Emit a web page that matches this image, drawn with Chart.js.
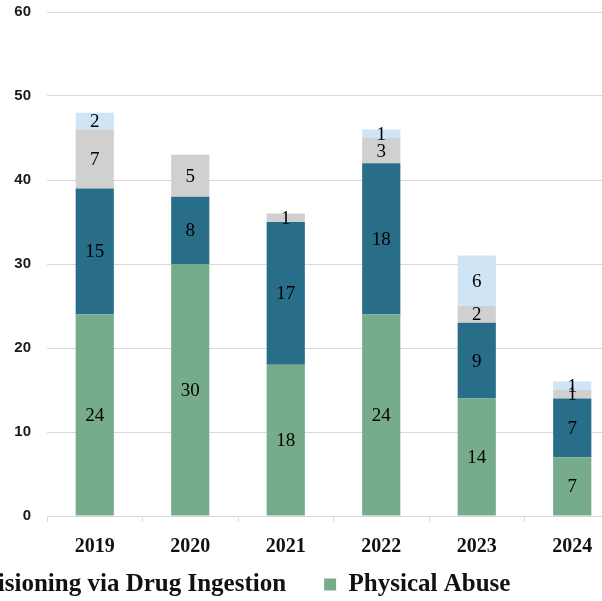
<!DOCTYPE html>
<html>
<head>
<meta charset="utf-8">
<script src="https://cdn.jsdelivr.net/npm/chart.js@4"></script>
<style>
  html, body { margin: 0; padding: 0; overflow: hidden; background: #fff; }
  body { width: 602px; height: 601px; position: relative; }
  #wrap { position: absolute; left: -164px; top: -13px; width: 800px; height: 658px; }
</style>
</head>
<body>
<div id="wrap"><canvas id="chart"></canvas></div>
<script>
// Values, stacked bottom to top
const years = ['2019', '2020', '2021', '2022', '2023', '2024'];
const physicalAbuse = [24, 30, 18, 24, 14, 7];
const drugPoisoning = [15, 8, 17, 18, 9, 7];
const grayPart = [7, 5, 1, 3, 2, 1];
const lightBluePart = [2, 0, 0, 1, 6, 1];
const yMax = 60;
const yStep = 10;

// Draw the number in the middle of every non-empty segment
const barLabels = {
    id: 'barLabels',
    afterDatasetsDraw(chart) {
        const ctx = chart.ctx;
        ctx.save();
        ctx.font = '19px "Liberation Serif"';
        ctx.fillStyle = '#000';
        ctx.textAlign = 'center';
        ctx.textBaseline = 'middle';
        chart.data.datasets.forEach((ds, i) => {
            chart.getDatasetMeta(i).data.forEach((bar, j) => {
                if (!ds.data[j]) return;
                ctx.fillText(ds.data[j], bar.x, (bar.y + bar.base) / 2 + 1);
            });
        });
        ctx.restore();
    }
};

// Legend items are spaced wide apart; pull the row up under the axis labels
const legendShift = {
    id: 'legendShift',
    afterLayout(chart) {
        chart.legend.top -= 38;
        chart.legend.bottom -= 38;
    }
};

const ctx = document.getElementById('chart').getContext('2d');
const chart = new Chart(ctx, {
    type: 'bar',
    data: {
        labels: years,
        datasets: [{
            label: 'Physical Abuse',
            data: physicalAbuse,
            backgroundColor: '#76ab8c'
        }, {
            label: 'Poisioning via Drug Ingestion',
            data: drugPoisoning,
            backgroundColor: '#286e89'
        }, {
            label: 'Series 3',
            data: grayPart,
            backgroundColor: '#d0d0d0'
        }, {
            label: 'Series 4',
            data: lightBluePart,
            backgroundColor: '#cfe4f4'
        }]
    },
    options: {
        responsive: true,
        maintainAspectRatio: false,
        animation: false,
        barPercentage: 0.8,
        categoryPercentage: 0.5,
        layout: {
            padding: { top: 11, left: 0, right: 16, bottom: 0 }
        },
        scales: {
            x: {
                stacked: true,
                grid: {
                    drawOnChartArea: false,
                    drawTicks: true,
                    tickLength: 6,
                    color: '#d9d9d9'
                },
                border: { display: true, color: '#d9d9d9' },
                ticks: {
                    padding: 13,
                    color: '#111',
                    font: { family: 'Liberation Serif', size: 20, weight: 'bold' }
                }
            },
            y: {
                stacked: true,
                min: 0,
                max: yMax,
                afterFit: function(scale) { scale.width = 211; },
                grid: {
                    color: '#d9d9d9',
                    drawTicks: false
                },
                border: { display: false },
                ticks: {
                    stepSize: yStep,
                    padding: 16,
                    color: '#1a1a1a',
                    font: { family: 'Liberation Sans', size: 15, weight: 'bold' }
                }
            }
        },
        plugins: {
            title: { display: false },
            tooltip: { enabled: false },
            legend: {
                position: 'bottom',
                reverse: true,
                labels: {
                    boxWidth: 12,
                    boxHeight: 12,
                    padding: 38,
                    color: '#111',
                    font: { family: 'Liberation Serif', size: 25, weight: 'bold' },
                    filter: function(item) {
                        return item.text === 'Physical Abuse' || item.text === 'Poisioning via Drug Ingestion';
                    }
                }
            }
        }
    },
    plugins: [barLabels, legendShift]
});
</script>
</body>
</html>
